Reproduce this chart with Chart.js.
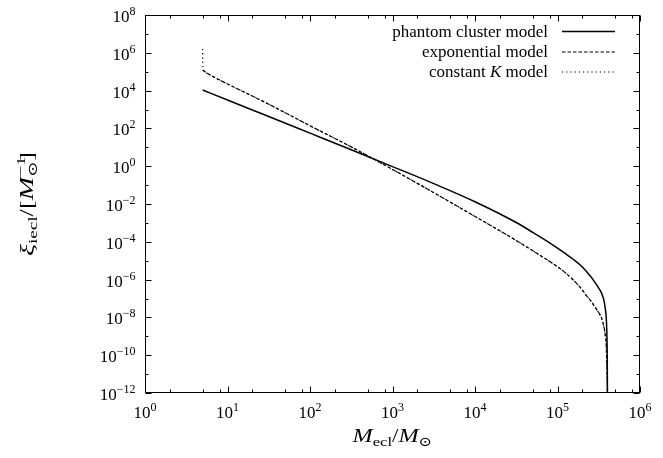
<!DOCTYPE html>
<html>
<head>
<meta charset="utf-8">
<script src="https://cdn.jsdelivr.net/npm/chart.js@4"></script>
<style>
  html, body { margin: 0; padding: 0; background: #fff; }
</style>
</head>
<body>
<canvas id="myChart" width="663" height="458"></canvas>
<script>
// embedded cluster mass (M_sun) and ECMF xi_iecl (1/M_sun) for each model
const phantomMass = [5.00, 10, 31.6, 100, 316, 1000, 3160, 1.0e4, 3.16e4, 5.01e4, 7.94e4, 1.0e5, 1.26e5, 1.58e5,
  2.00e5, 2.51e5, 2.82e5, 3.16e5, 3.39e5, 3.63e5, 3.80e5, 3.89e5, 3.95e5, 3.99e5, 4.01e5, 4.03e5];
const phantomXi = [1.07e4, 3.16e3, 4.27e2, 56.2, 7.41, 0.955, 0.120, 1.32e-2, 1.05e-3, 3.16e-4, 9.12e-5, 4.68e-5, 2.29e-5, 1.12e-5,
  4.68e-6, 1.51e-6, 7.59e-7, 3.55e-7, 2.09e-7, 8.91e-8, 2.82e-8, 1.12e-8, 2.51e-9, 3.98e-10, 5.01e-11, 1e-12];

const expMass = [5.00, 5.62, 6.31, 7.94, 10, 15.8, 31.6, 100, 316, 1000, 3160, 1.0e4, 3.16e4, 6.31e4,
  1.0e5, 1.26e5, 1.58e5, 2.00e5, 2.24e5, 2.51e5, 2.82e5, 3.16e5, 3.39e5, 3.63e5, 3.80e5, 3.89e5, 3.95e5, 4.00e5, 4.03e5];
const expXi = [1.23e5, 8.51e4, 6.31e4, 3.72e4, 2.24e4, 8.51e3, 1.91e3, 138, 10.5, 0.676, 3.98e-2, 2.19e-3, 1.17e-4, 1.78e-5,
  4.79e-6, 2.19e-6, 8.91e-7, 2.82e-7, 1.41e-7, 7.94e-8, 3.80e-8, 1.78e-8, 1.0e-8, 3.55e-9, 1.12e-9, 3.98e-10, 6.31e-11, 1.0e-11, 1e-12];

const constKMass = [5.00, 5.02, 5.62, 6.31, 7.94, 10, 15.8, 31.6, 100, 316, 1000, 3160, 1.0e4, 3.16e4, 6.31e4,
  1.0e5, 1.26e5, 1.58e5, 2.00e5, 2.24e5, 2.51e5, 2.82e5, 3.16e5, 3.39e5, 3.63e5, 3.80e5, 3.89e5, 3.95e5, 4.00e5, 4.03e5];
const constKXi = [1.58e6, 1.30e5, 8.51e4, 6.31e4, 3.72e4, 2.24e4, 8.51e3, 1.91e3, 138, 10.5, 0.676, 3.98e-2, 2.19e-3, 1.17e-4, 1.78e-5,
  4.79e-6, 2.19e-6, 8.91e-7, 2.82e-7, 1.41e-7, 7.94e-8, 3.80e-8, 1.78e-8, 1.0e-8, 3.55e-9, 1.12e-9, 3.98e-10, 6.31e-11, 1.0e-11, 1e-12];

// tick decades (exponents) and minor tick factors
const xTickExps = [0, 1, 2, 3, 4, 5, 6];
const xMinorFactors = [2, 5, 8];
const yTickExps = [-12, -10, -8, -6, -4, -2, 0, 2, 4, 6, 8];
const yMinorExps = [-11, -9, -7, -5, -3, -1, 1, 3, 5, 7];

const SERIF = '"Liberation Serif", "DejaVu Serif", serif';
const BASE = '17px ' + SERIF;
const SUP = '12px ' + SERIF;
const ITAL = 'italic 17px ' + SERIF;
const T_BASE = '18px ' + SERIF;
const T_ITAL = 'italic 19px ' + SERIF;
const T_SMALL = '13px ' + SERIF;

const toPoints = (xs, ys) => xs.map((x, i) => ({ x: x, y: ys[i] }));
const minus = s => String(s).replace('-', '\u2212');

// draw a row of text pieces with different fonts / offsets,
// optionally stretched sideways to a given total width
function drawRuns(c, runs, x, y, align, fitWidth) {
  let w = 0;
  runs.forEach(r => {
    c.font = r.font;
    r.w = c.measureText(r.text).width;
    if (!r.stack) w += r.w;
  });
  const k = fitWidth ? fitWidth / w : 1;
  c.save();
  c.translate(x, y);
  c.scale(k, 1);
  let cx = align === 'right' ? -w : align === 'center' ? -w / 2 : 0;
  runs.forEach(r => {
    c.font = r.font;
    c.fillText(r.text, cx, r.dy || 0);
    if (!r.stack) cx += r.w;
  });
  c.restore();
}

const frameAndText = {
  id: 'frameAndText',
  afterDraw(chart) {
    const c = chart.ctx, a = chart.chartArea;
    const xs = chart.scales.x, ys = chart.scales.y;
    const L = Math.round(a.left) + 0.5, R = Math.round(a.right) - 0.5;
    const T = Math.round(a.top) + 0.5, B = Math.round(a.bottom) - 0.5;
    c.save();
    c.strokeStyle = '#000';
    c.fillStyle = '#000';
    c.lineWidth = 1;
    c.strokeRect(L, T, R - L, B - T);

    // inward ticks on all four sides
    c.beginPath();
    const xTick = (v, len) => {
      const px = Math.round(xs.getPixelForValue(v)) + 0.5;
      c.moveTo(px, B); c.lineTo(px, B - len);
      c.moveTo(px, T); c.lineTo(px, T + len);
    };
    const yTick = (v, len) => {
      const py = Math.round(ys.getPixelForValue(v)) + 0.5;
      c.moveTo(L, py); c.lineTo(L + len, py);
      c.moveTo(R, py); c.lineTo(R - len, py);
    };
    xTickExps.forEach(e => xTick(Math.pow(10, e), 6));
    xTickExps.slice(0, -1).forEach(e => xMinorFactors.forEach(f => xTick(f * Math.pow(10, e), 3)));
    yTickExps.forEach(e => yTick(Math.pow(10, e), 6));
    yMinorExps.forEach(e => yTick(Math.pow(10, e), 3));
    c.stroke();

    // tick labels
    c.textBaseline = 'alphabetic';
    xTickExps.forEach(e => {
      const px = xs.getPixelForValue(Math.pow(10, e));
      drawRuns(c, [{ text: '10', font: BASE }, { text: minus(e), font: SUP, dy: -7 }], px, B + 25, 'center');
    });
    yTickExps.forEach(e => {
      const py = ys.getPixelForValue(Math.pow(10, e));
      drawRuns(c, [{ text: '10', font: BASE }, { text: minus(e), font: SUP, dy: -7 }], L - 10, py + 7, 'right');
    });

    // axis titles
    drawRuns(c, [
      { text: 'M', font: T_ITAL },
      { text: 'ecl', font: T_SMALL, dy: 4 },
      { text: '/', font: T_BASE },
      { text: 'M', font: T_ITAL },
      { text: '\u2299', font: T_SMALL, dy: 4 }
    ], (L + R) / 2, 442, 'center', 80);

    c.save();
    c.translate(33, (T + B) / 2);
    c.rotate(-Math.PI / 2);
    drawRuns(c, [
      { text: '\u03be', font: T_ITAL },
      { text: 'iecl', font: T_SMALL, dy: 4 },
      { text: '/[', font: T_BASE },
      { text: 'M', font: T_ITAL },
      { text: '\u22121', font: T_SMALL, dy: -8, stack: true },
      { text: '\u2299', font: T_SMALL, dy: 4 },
      { text: ']', font: T_BASE }
    ], 0, 0, 'center', 104);
    c.restore();

    // key, top right inside the frame
    const rows = [
      { runs: [{ text: 'phantom cluster model', font: BASE }], dash: [], width: 1.5 },
      { runs: [{ text: 'exponential model', font: BASE }], dash: [3.5, 2], width: 1.2 },
      { runs: [{ text: 'constant ', font: BASE }, { text: 'K', font: ITAL }, { text: ' model', font: BASE }], dash: [1.2, 3], width: 1.2 }
    ];
    const rowY = [31.5, 52, 72];
    rows.forEach((row, i) => {
      drawRuns(c, row.runs, 548, rowY[i] + 5, 'right');
      c.beginPath();
      c.setLineDash(row.dash);
      c.lineWidth = row.width;
      c.moveTo(562, rowY[i]);
      c.lineTo(615, rowY[i]);
      c.stroke();
    });
    c.setLineDash([]);
    c.restore();
  }
};

const ctx = document.getElementById('myChart');

new Chart(ctx, {
  type: 'line',
  data: {
    datasets: [{
      label: 'phantom cluster model',
      data: toPoints(phantomMass, phantomXi),
      borderColor: '#000',
      borderWidth: 1.5,
      pointRadius: 0,
      fill: false,
      cubicInterpolationMode: 'monotone',
    }, {
      label: 'exponential model',
      data: toPoints(expMass, expXi),
      borderColor: '#000',
      borderWidth: 1.2,
      borderDash: [3.5, 2],
      pointRadius: 0,
      fill: false,
      cubicInterpolationMode: 'monotone',
    }, {
      label: 'constant K model',
      data: toPoints(constKMass, constKXi),
      borderColor: '#000',
      borderWidth: 1.2,
      borderDash: [1.2, 3],
      pointRadius: 0,
      fill: false,
      cubicInterpolationMode: 'monotone',
    }]
  },
  options: {
    responsive: false,
    animation: false,
    layout: {
      padding: { left: 145, right: 23, top: 15, bottom: 65 }
    },
    scales: {
      x: { type: 'logarithmic', min: 1, max: 1e6, display: false },
      y: { type: 'logarithmic', min: 1e-12, max: 1e8, display: false }
    },
    plugins: {
      legend: { display: false },
      tooltip: { enabled: false }
    }
  },
  plugins: [frameAndText]
});
</script>
</body>
</html>
